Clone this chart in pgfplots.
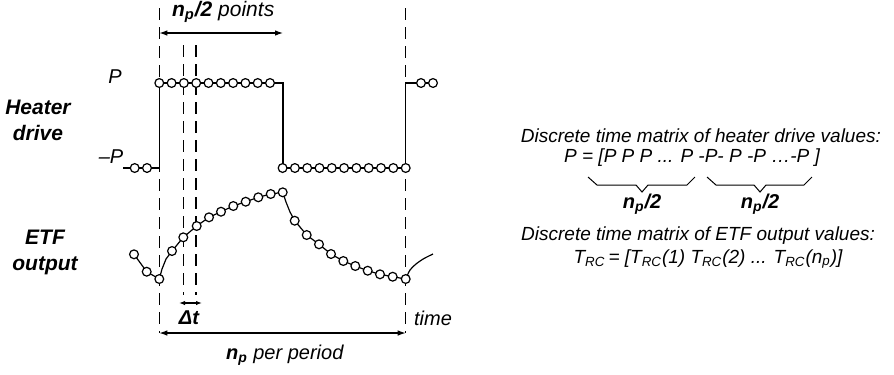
\documentclass[border=0pt]{standalone}
\usepackage{pgfplots}
\pgfplotsset{compat=1.18}
\usepackage{fontspec}
\setmainfont{Liberation Sans}
\usetikzlibrary{arrows.meta}
\begin{document}
\begin{tikzpicture}
\begin{axis}[
  width=447pt, height=187pt, scale only axis,
  xmin=0, xmax=894, ymin=0, ymax=374, y dir=reverse,
  hide axis, clip=false,
  every axis plot/.append style={line width=0.6pt, black},
  mk/.style={only marks, mark=*, mark size=2.2pt, mark options={fill=white, draw=black, line width=0.6pt}},
  dsh/.style={dash pattern=on 6pt off 3.5pt, line width=0.6pt, black},
]
% dashed guide lines
\addplot[dsh] coordinates {(159.3,8) (159.3,333)};
\addplot[dsh] coordinates {(405.7,8) (405.7,333)};
\addplot[dsh] coordinates {(183.3,45) (183.3,295)};
\addplot[dsh] coordinates {(196,45) (196,295)};
% heater drive
\addplot[sharp plot] coordinates {(123,168) (159.3,168) (159.3,83) (283,83) (283,168) (405.7,168) (405.7,83) (433,83)};
\addplot[mk] coordinates {(134.7,168) (147,168)
 (159.3,83) (171.6,83) (183.9,83) (196.2,83) (208.5,83) (220.8,83) (233.1,83) (245.4,83) (257.7,83) (270,83)
 (282.6,168) (294.9,168) (307.2,168) (319.5,168) (331.8,168) (344.1,168) (356.4,168) (368.7,168) (381,168) (393.3,168) (405.7,168)
 (421,83) (433,83)};
% ETF output
\addplot[sharp plot] coordinates {(134,254.3) (146.7,271.7) (159.3,279) (162,269) (166,259) (172,251) (183.3,237.3) (196.7,226) (209,217.3) (221,211.7) (233.3,206) (245.7,201.7) (258.3,197.3) (270.7,194) (282.7,192.3) (286,202) (290,212) (294.7,220.7) (306.7,235) (319,244.3) (331,254) (343.3,261) (355.3,266) (367.7,270.7) (380,274.3) (392.7,276.7) (405.7,279)};
\addplot[smooth] coordinates {(405.7,279) (410,270) (416,264) (424,258.5) (433,254)};
\addplot[mk] coordinates {(134,254.3) (146.7,271.7) (159.3,279) (172,251) (183.3,237.3) (196.7,226) (209,217.3) (221,211.7) (233.3,206) (245.7,201.7) (258.3,197.3) (270.7,194) (282.7,192.3) (294.7,220.7) (306.7,235) (319,244.3) (331,254) (343.3,261) (355.3,266) (367.7,270.7) (380,274.3) (392.7,276.7) (405.7,279)};
% arrows
\addplot[{Latex[length=4pt,width=2.8pt]}-{Latex[length=4pt,width=2.8pt]}] coordinates {(159.3,33) (283,33)};
\addplot[{Latex[length=3pt,width=2.2pt]}-{Latex[length=3pt,width=2.2pt]}] coordinates {(179,303) (202,303)};
\addplot[{Latex[length=4pt,width=2.8pt]}-{Latex[length=4pt,width=2.8pt]}] coordinates {(159.3,333) (405.7,333)};
% braces
\addplot[sharp plot, line width=0.5pt] coordinates {(588,177) (597,185) (636,185) (642,192) (648,185) (687,185) (695,177)};
\addplot[sharp plot, line width=0.5pt] coordinates {(707,177) (716,185) (754,185) (760,192) (766,185) (804,185) (812,177)};
% texts
\node[anchor=west, font=\fontsize{10.5}{12}\selectfont] at (axis cs:165,12) {\textbf{\textit{n\textsubscript{p}/2}} \textit{points}};
\node[font=\fontsize{10}{12}\selectfont\itshape] at (axis cs:115,77) {P};
\node[font=\fontsize{10}{12}\selectfont\itshape] at (axis cs:111,157) {–P};
\node[align=center, font=\fontsize{10.5}{13}\selectfont\bfseries\itshape] at (axis cs:38,120) {Heater\\drive};
\node[align=center, font=\fontsize{10.5}{13}\selectfont\bfseries\itshape] at (axis cs:45,252) {ETF\\output};
\node[font=\fontsize{10}{12}\selectfont\bfseries\itshape] at (axis cs:189,318) {Δt};
\node[font=\fontsize{10}{12}\selectfont\itshape] at (axis cs:433,318) {time};
\node[font=\fontsize{10}{12}\selectfont] at (axis cs:285,355) {\textbf{\textit{n\textsubscript{p}}} \textit{per period}};
\node[anchor=east, font=\fontsize{9.5}{11}\selectfont\itshape] at (axis cs:888,136) {Discrete time matrix of heater drive values:};
\node[font=\fontsize{9.5}{11}\selectfont\itshape] at (axis cs:692,158) {P = [P P P ... P -P- P -P …-P ]};
\node[font=\fontsize{10}{12}\selectfont\bfseries\itshape] at (axis cs:642,204) {n\textsubscript{p}/2};
\node[font=\fontsize{10}{12}\selectfont\bfseries\itshape] at (axis cs:760,204) {n\textsubscript{p}/2};
\node[anchor=east, font=\fontsize{9.5}{11}\selectfont\itshape] at (axis cs:882,236) {Discrete time matrix of ETF output values:};
\node[font=\fontsize{9.5}{11}\selectfont\itshape] at (axis cs:708,259) {T\textsubscript{RC}\,= [T\textsubscript{RC}(1) T\textsubscript{RC}(2) ... T\textsubscript{RC}(n\textsubscript{p})]};
\end{axis}
\pgfresetboundingbox
\path[use as bounding box] (current axis.south west) rectangle (current axis.north east);
\end{tikzpicture}
\end{document}
